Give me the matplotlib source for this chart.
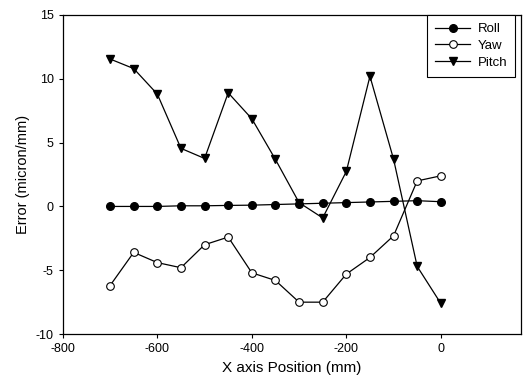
import matplotlib
matplotlib.use("Agg")
import matplotlib.pyplot as plt

plt.rcParams['font.family'] = ['Liberation Sans', 'DejaVu Sans']
plt.rcParams['axes.unicode_minus'] = False

x_pos = [-700, -650, -600, -550, -500, -450, -400, -350, -300, -250, -200, -150, -100, -50, 0]
roll = [0.0, 0.0, 0.0, 0.05, 0.05, 0.08, 0.1, 0.15, 0.2, 0.25, 0.3, 0.35, 0.4, 0.45, 0.37]
yaw = [-6.2, -3.6, -4.4, -4.8, -3.0, -2.4, -5.2, -5.8, -7.5, -7.5, -5.3, -4.0, -2.3, 2.0, 2.4]
pitch = [11.55, 10.8, 8.8, 4.55, 3.76, 8.9, 6.87, 3.68, 0.3, -0.9, 2.74, 10.2, 3.7, -4.7, -7.6]

x_ticks = [-800, -600, -400, -200, 0]
y_ticks = [-10, -5, 0, 5, 10, 15]

fig = plt.figure(figsize=(5.28, 3.84), dpi=100)
ax = fig.add_axes([0.119, 0.130, 0.868, 0.831])

ax.plot(x_pos, roll, color='black', lw=0.9, marker='o', ms=5.5,
        mfc='black', mec='black', label='Roll')
ax.plot(x_pos, yaw, color='black', lw=0.9, marker='o', ms=5.5,
        mfc='white', mec='black', mew=0.8, label='Yaw')
ax.plot(x_pos, pitch, color='black', lw=0.9, marker='v', ms=6,
        mfc='black', mec='black', label='Pitch')

ax.set_xlim(-800, 170)
ax.set_ylim(-10, 15)
ax.set_xticks(x_ticks)
ax.set_yticks(y_ticks)
ax.tick_params(direction='out', length=3, width=0.8, labelsize=9)
for s in ax.spines.values():
    s.set_linewidth(0.9)

ax.set_xlabel('X axis Position (mm)', fontsize=11)
ax.set_ylabel('Error (micron/mm)', fontsize=10.5)

leg = ax.legend(loc='upper right', bbox_to_anchor=(0.987, 1.0), fontsize=9.5,
                frameon=True, fancybox=False, edgecolor='black', framealpha=1,
                handlelength=2.6, borderpad=0.6, labelspacing=0.35,
                borderaxespad=0.0, handletextpad=0.6)
leg.get_frame().set_linewidth(0.8)

fig.savefig('out.png', dpi=100)
